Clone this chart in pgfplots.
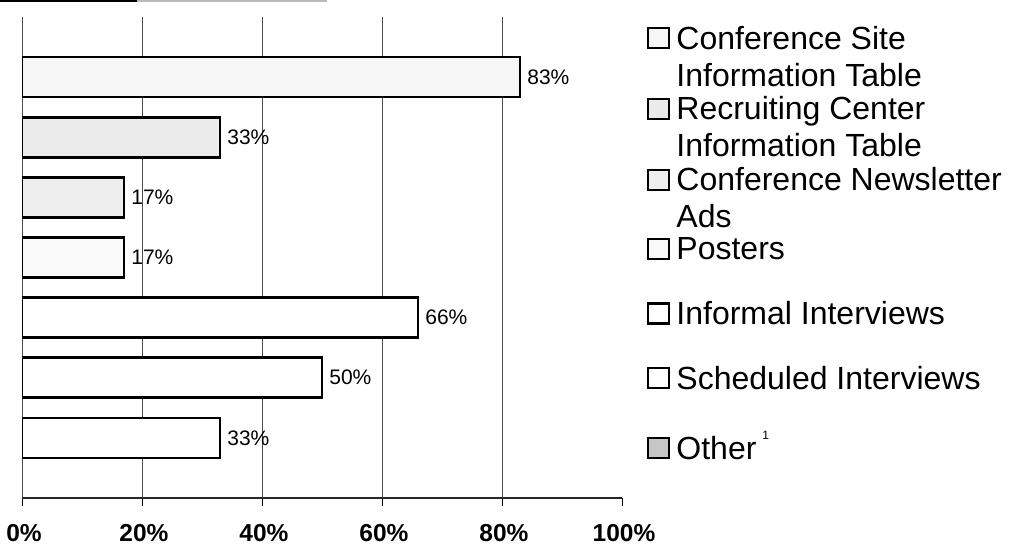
\documentclass[border=0pt]{standalone}
\usepackage{fontspec}
\setmainfont{Liberation Sans}
\usepackage{pgfplots}
\pgfplotsset{compat=1.18}
\pgfkeys{/tikz/legdepth/.initial=42pt}
\newcommand{\twoline}[2]{\vtop{\baselineskip=37pt\hbox{#1}\hbox{#2}}}
\begin{document}
\begin{tikzpicture}[x=1pt,y=1pt]
\useasboundingbox (0,0) rectangle (1009,545);
\draw[line width=2pt, black] (0,544) -- (137,544);
\draw[line width=2pt, gray!55] (137,544) -- (327,544);
\begin{axis}[
  at={(22pt,47pt)}, anchor=south west,
  width=600pt, height=481pt, scale only axis,
  xmin=0, xmax=100, ymin=0, ymax=8,
  axis x line*=bottom, axis y line=none,
  ytick=\empty,
  xtick={0,20,40,60,80},
  xticklabels={0\%,20\%,40\%,60\%,80\%},
  extra x ticks={100},
  extra x tick labels={100\%},
  extra x tick style={grid=none},
  xmajorgrids,
  grid style={black!70, line width=0.8pt},
  tick align=outside, major tick length=8pt,
  x axis line style={black!85, line width=1.2pt},
  xtick style={black, line width=1pt},
  xticklabel style={font=\bfseries\fontsize{24.5}{28}\selectfont, anchor=base, xshift=2pt, yshift=-35.5pt},
  xbar, bar width=40pt, bar shift=0pt,
  point meta=x,
  nodes near coords={\pgfmathprintnumber[assume math mode=true]{\pgfplotspointmeta}\%},
  nodes near coords style={font=\fontsize{21}{24}\selectfont, anchor=west, inner sep=0pt, xshift=6pt, black},
  legend image code/.code={%
    \draw[#1, line width=2.2pt] (1pt,1pt) rectangle (22pt,21pt);
    \begin{scope}[#1]\pgfkeysgetvalue{/tikz/legdepth}\tmpd\xdef\legd{\tmpd}\end{scope}%
    \path[draw=none, fill=none] (0pt,-\legd) -- (0pt,22pt);
  },
  legend style={at={(axis description cs:1.0417,0.982)}, anchor=north west, draw=none, fill=none,
    inner sep=0pt, row sep=0pt, column sep=6pt,
    nodes={inner sep=0pt, font=\fontsize{32}{37}\selectfont},
    cells={anchor=base west}},
]
\addplot[draw=black, line width=2.7pt, fill=gray!7, legend image post style={/tikz/legdepth=47.7pt}] coordinates {(83,7)};
\addlegendentry{\twoline{Conference Site}{Information Table}}
\addplot[draw=black, line width=2.7pt, fill=gray!16, legend image post style={/tikz/legdepth=47.7pt}] coordinates {(33,6)};
\addlegendentry{\twoline{Recruiting Center}{Information Table}}
\addplot[draw=black, line width=2.7pt, fill=gray!13, legend image post style={/tikz/legdepth=46.7pt}] coordinates {(17,5)};
\addlegendentry{\twoline{Conference Newsletter}{Ads}}
\addplot[draw=black, line width=2.7pt, fill=gray!5, legend image post style={/tikz/legdepth=41.7pt}] coordinates {(17,4)};
\addlegendentry{Posters}
\addplot[draw=black, line width=2.7pt, fill=white, legend image post style={/tikz/legdepth=41.7pt}] coordinates {(66,3)};
\addlegendentry{Informal Interviews}
\addplot[draw=black, line width=2.7pt, fill=white, legend image post style={/tikz/legdepth=41.7pt}] coordinates {(50,2)};
\addlegendentry{Scheduled Interviews}
\addplot[draw=black, line width=2.7pt, fill=white, legend image post style={fill=gray!45, /tikz/legdepth=41.7pt}] coordinates {(33,1)};
\addlegendentry{Other\hspace{6pt}\raisebox{20pt}{\fontsize{12}{12}\selectfont 1}}
\end{axis}
\end{tikzpicture}
\end{document}
